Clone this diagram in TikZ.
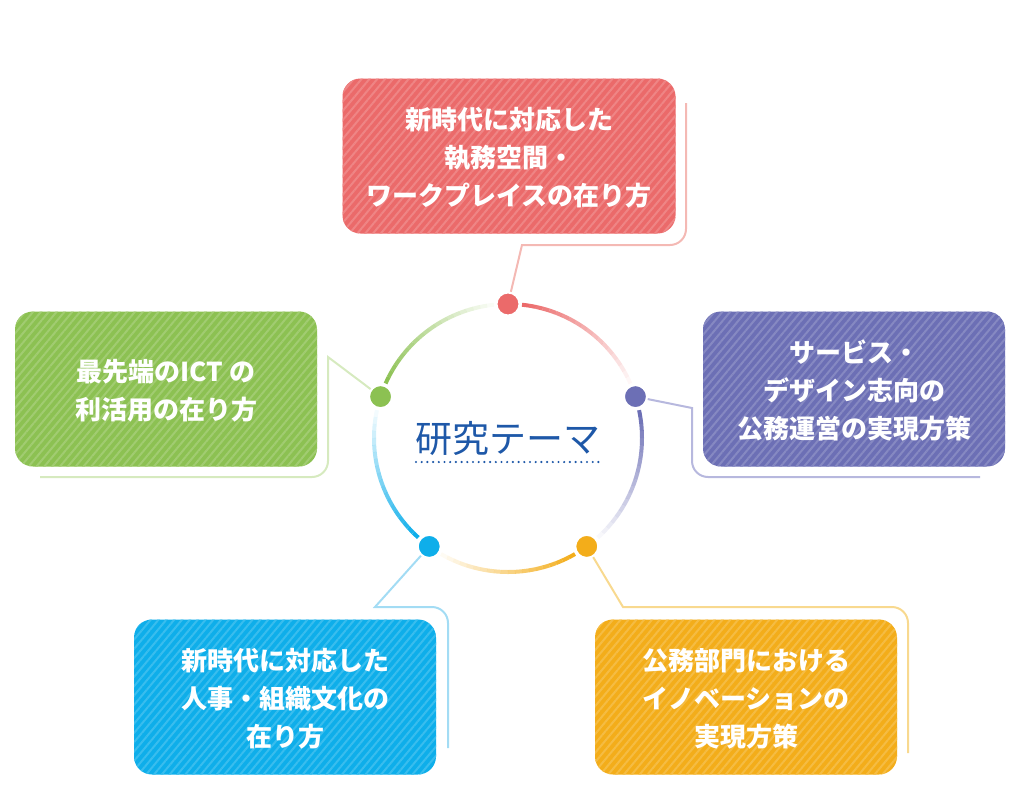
\documentclass[tikz,border=0pt]{standalone}
\usepackage{fontspec}
\setmainfont{Noto Sans CJK JP}
\usetikzlibrary{patterns.meta}

\definecolor{cR}{HTML}{EB6A6A}
\definecolor{cP}{HTML}{6C6FB5}
\definecolor{cG}{HTML}{8CC152}
\definecolor{cB}{HTML}{0EAEEA}
\definecolor{cO}{HTML}{F3AD1A}
\definecolor{lR}{HTML}{F4B9B4}
\definecolor{lP}{HTML}{B7B8DE}
\definecolor{lG}{HTML}{D6EABF}
\definecolor{lB}{HTML}{A3DCF4}
\definecolor{lO}{HTML}{F8D98F}
\definecolor{cT}{HTML}{1E58A8}

\tikzset{
  box/.style={rounded corners=18, preaction={fill=#1},
    pattern={Lines[angle=50,distance=6pt,line width=2pt]}, pattern color=#1!82!white,
    text=white, align=center, minimum width=302, minimum height=155,
    text depth=-8pt, font=\fontsize{26}{38}\selectfont\bfseries},
  dot/.style={circle, fill=#1, draw=white, line width=2, minimum size=23, inner sep=0},
  link/.style={draw=#1, line width=2},
}

\begin{document}
\begin{tikzpicture}[x=1pt, y=-1pt]
  \useasboundingbox (0,0) rectangle (1018,790);

  % Kreis
  \coordinate (cen) at (508,438);
  \foreach \a/\c in {-90/cR, -18/cP, 54/cO, 126/cB, 198/cG}{
    \foreach \i [evaluate=\i as \op using 1-\i/20,
                 evaluate=\i as \s using \a+6+3*\i,
                 evaluate=\i as \e using \a+9+3*\i] in {0,...,19}{
      \draw[\c, line width=4, draw opacity=\op] ([shift={(\s:134)}]cen) arc[start angle=\s, end angle=\e, radius=134];
    }
  }

  % Punkte
  \node[dot=cR] (dR) at ([shift={(-90:134)}]cen) {};
  \node[dot=cP] (dP) at ([shift={(-18:134)}]cen) {};
  \node[dot=cO] (dO) at ([shift={(54:134)}]cen) {};
  \node[dot=cB] (dB) at ([shift={(126:134)}]cen) {};
  \node[dot=cG] (dG) at ([shift={(198:134)}]cen) {};

  % Kaesten
  \node[box=cR, minimum width=333] (bR) at (509,156) {新時代に対応した\\執務空間・\\ワークプレイスの在り方};
  \node[box=cG] (bG) at (166,389) {最先端のICT の\\利活用の在り方};
  \node[box=cP] (bP) at (854,389) {サービス・\\デザイン志向の\\公務運営の実現方策};
  \node[box=cB] (bB) at (285,697) {新時代に対応した\\人事・組織文化の\\在り方};
  \node[box=cO] (bO) at (746,697) {公務部門における\\イノベーションの\\実現方策};

  % Linien
  \coordinate (eR) at (686,103);
  \coordinate (eG) at (40,477);
  \coordinate (eP) at (980,477);
  \coordinate (eB) at (448,748);
  \coordinate (eO) at (908,753);
  \draw[link=lR] (dR) -- (522,245) -- (670,245) arc[start angle=90, end angle=0, radius=16] -- (eR);
  \draw[link=lG] (dG) -- (328,357) -- (328,461) arc[start angle=0, end angle=90, radius=16] -- (eG);
  \draw[link=lP] (dP) -- (692,408) -- (692,461) arc[start angle=180, end angle=90, radius=16] -- (eP);
  \draw[link=lB] (dB) -- (375,607) -- (432,607) arc[start angle=-90, end angle=0, radius=16] -- (eB);
  \draw[link=lO] (dO) -- (623,607) -- (892,607) arc[start angle=-90, end angle=0, radius=16] -- (eO);

  % Titel
  \node[font=\fontsize{37}{40}\selectfont, text=cT, inner sep=0] (ttl) at (508,438) {研究テーマ};
  \draw[cT, line width=2.4, line cap=round, dash pattern=on 0pt off 5.7pt] (416,462) -- (602,462);
\end{tikzpicture}
\end{document}
